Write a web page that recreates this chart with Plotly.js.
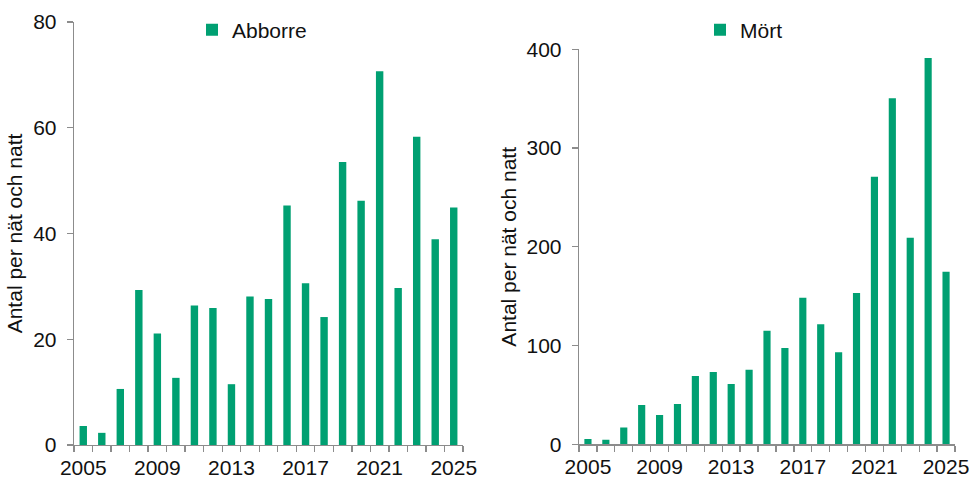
<!DOCTYPE html>
<html>
<head>
<meta charset="utf-8">
<script src="https://cdn.plot.ly/plotly-3.0.1.min.js"></script>
<style>html,body{margin:0;padding:0;background:#fff;}#chart{width:972px;height:480px;}</style>
</head>
<body>
<div id="chart"></div>
<script>
const years = [2005,2006,2007,2008,2009,2010,2011,2012,2013,2014,2015,2016,2017,2018,2019,2020,2021,2022,2023,2024,2025];
const abborre = [3.6,2.3,10.6,29.3,21.1,12.7,26.4,25.9,11.5,28.1,27.6,45.3,30.6,24.2,53.5,46.2,70.7,29.7,58.3,38.9,44.9];
const mort = [5.4,4.7,16.9,39.8,29.7,40.8,69.2,73.2,61.1,75.6,115,97.5,148.5,121.5,93.2,153.2,271,350.4,209.2,391.2,174.8];
const xTickLabels = [2005,2009,2013,2017,2021,2025];
const yTitle = 'Antal per nät och natt';

const green = 'rgb(0,160,114)';
const font = {family:'"Liberation Sans", Arial, sans-serif', size:21, color:'#111'};

const traces = [
  {type:'bar', x:years, y:abborre, name:'Abborre', marker:{color:green}, width:0.4, xaxis:'x', yaxis:'y', legend:'legend'},
  {type:'bar', x:years, y:mort, name:'Mört', marker:{color:green}, width:0.4, xaxis:'x2', yaxis:'y2', legend:'legend2'}
];

function xax(domain, anchor){
  return {domain:domain, anchor:anchor, range:[2004.5,2025.5], tickvals:xTickLabels, ticktext:xTickLabels.map(String),
    ticks:'', showline:true, linecolor:'#8c8c8c', linewidth:1.3, showgrid:false, zeroline:false,
    tickfont:font, automargin:false, ticklabelstandoff:3,
    minor:{tick0:2004.5, dtick:1, ticks:'outside', ticklen:6, tickcolor:'#8c8c8c', tickwidth:1.3, showgrid:false}};
}
function yax(domain, anchor, range, dtick, standoff){
  return {domain:domain, anchor:anchor, range:range, dtick:dtick, tick0:0,
    ticks:'outside', ticklen:6, tickcolor:'#8c8c8c', tickwidth:1.3,
    showline:true, linecolor:'#8c8c8c', linewidth:1.3, showgrid:false, zeroline:false,
    tickfont:font, automargin:false, ticklabelstandoff:6,
    title:{text:yTitle, font:{family:font.family, size:21, color:'#111'}, standoff:standoff}};
}

const layout = {
  width:972, height:480,
  margin:{l:0, r:0, t:0, b:0},
  paper_bgcolor:'#fff', plot_bgcolor:'#fff',
  xaxis: xax([74/972, 463/972], 'y'),
  yaxis: yax([1-445/480, 1-22/480], 'x', [0,80], 20, 4),
  xaxis2: xax([579/972, 955/972], 'y2'),
  yaxis2: yax([1-444.3/480, 1-49.3/480], 'x2', [0,400], 100, 4),
  legend:{x:252/972, y:1-30/480, xanchor:'center', yanchor:'middle', font:font, bgcolor:'rgba(0,0,0,0)', itemwidth:30},
  legend2:{x:744/972, y:1-30/480, xanchor:'center', yanchor:'middle', font:font, bgcolor:'rgba(0,0,0,0)', itemwidth:30},
  showlegend:true
};

Plotly.newPlot('chart', traces, layout, {staticPlot:true, displayModeBar:false});
</script>
</body>
</html>
